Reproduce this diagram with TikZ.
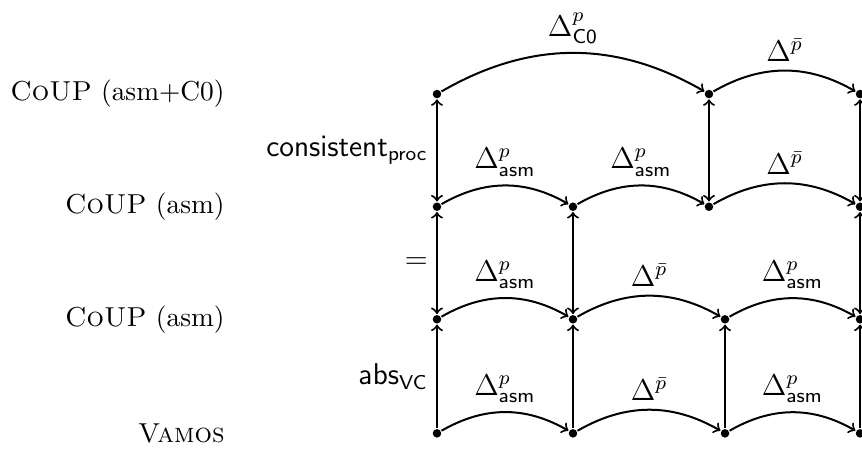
\documentclass[tikz,border=0pt]{standalone}
\begin{document}
\begin{tikzpicture}[thick,every node/.style={font=\large},
  level/.style={anchor=east,font=\fontsize{10.95}{13.6}\selectfont},
  dot/.style={circle,fill,inner sep=0pt,minimum size=3.4pt}]
\useasboundingbox (0,0) rectangle (12.1,6.303);
% levels
\node[level] (lt) at (3.284,4.983) {\textsc{CoUP} (asm+C0)};
\node[level] (lu) at (3.284,3.401) {\textsc{CoUP} (asm)};
\node[level] (lw) at (3.284,1.821) {\textsc{CoUP} (asm)};
\node[level] (lv) at (3.284,0.220) {\textsc{Vamos}};
% states
\foreach \n/\x in {0/6.134,2/9.952,3/12.072} \node[dot] (t\n) at (\x,4.983) {};
\foreach \n/\x in {0/6.134,1/8.043,2/9.952,3/12.072} \node[dot] (u\n) at (\x,3.401) {};
\foreach \n/\x in {0/6.134,1/8.043,2/10.177,3/12.072} \node[dot] (w\n) at (\x,1.821) {};
\foreach \n/\x in {0/6.134,1/8.043,2/10.177,3/12.072} \node[dot] (v\n) at (\x,0.220) {};
% steps
\draw[->] (t0) to[bend left=30] node[above] {$\Delta^p_{\mathsf{C0}}$} (t2);
\draw[->] (t2) to[bend left=30] node[above] {$\Delta^{\bar p}$} (t3);
\foreach \a/\b/\l in {0/1/{\Delta^p_{\mathsf{asm}}},1/2/{\Delta^p_{\mathsf{asm}}},2/3/{\Delta^{\bar p}}} \draw[->] (u\a) to[bend left=30] node[above] {$\l$} (u\b);
\foreach \a/\b/\l in {0/1/{\Delta^p_{\mathsf{asm}}},1/2/{\Delta^{\bar p}},2/3/{\Delta^p_{\mathsf{asm}}}} {
  \draw[->] (w\a) to[bend left=30] node[above] {$\l$} (w\b);
  \draw[->] (v\a) to[bend left=30] node[above] {$\l$} (v\b);
}
% relations
\draw[<->] (t0) -- node[left] {$\mathsf{consistent}_{\mathsf{proc}}$} (u0);
\foreach \c in {2,3} \draw[<->] (t\c) -- (u\c);
\draw[<->] (u0) -- node[left] {$=$} (w0);
\foreach \c in {1,3} \draw[<->] (u\c) -- (w\c);
\draw[->] (v0) -- node[left] {$\mathsf{abs}_{\mathsf{VC}}$} (w0);
\foreach \c in {1,2,3} \draw[->] (v\c) -- (w\c);
\end{tikzpicture}
\end{document}
